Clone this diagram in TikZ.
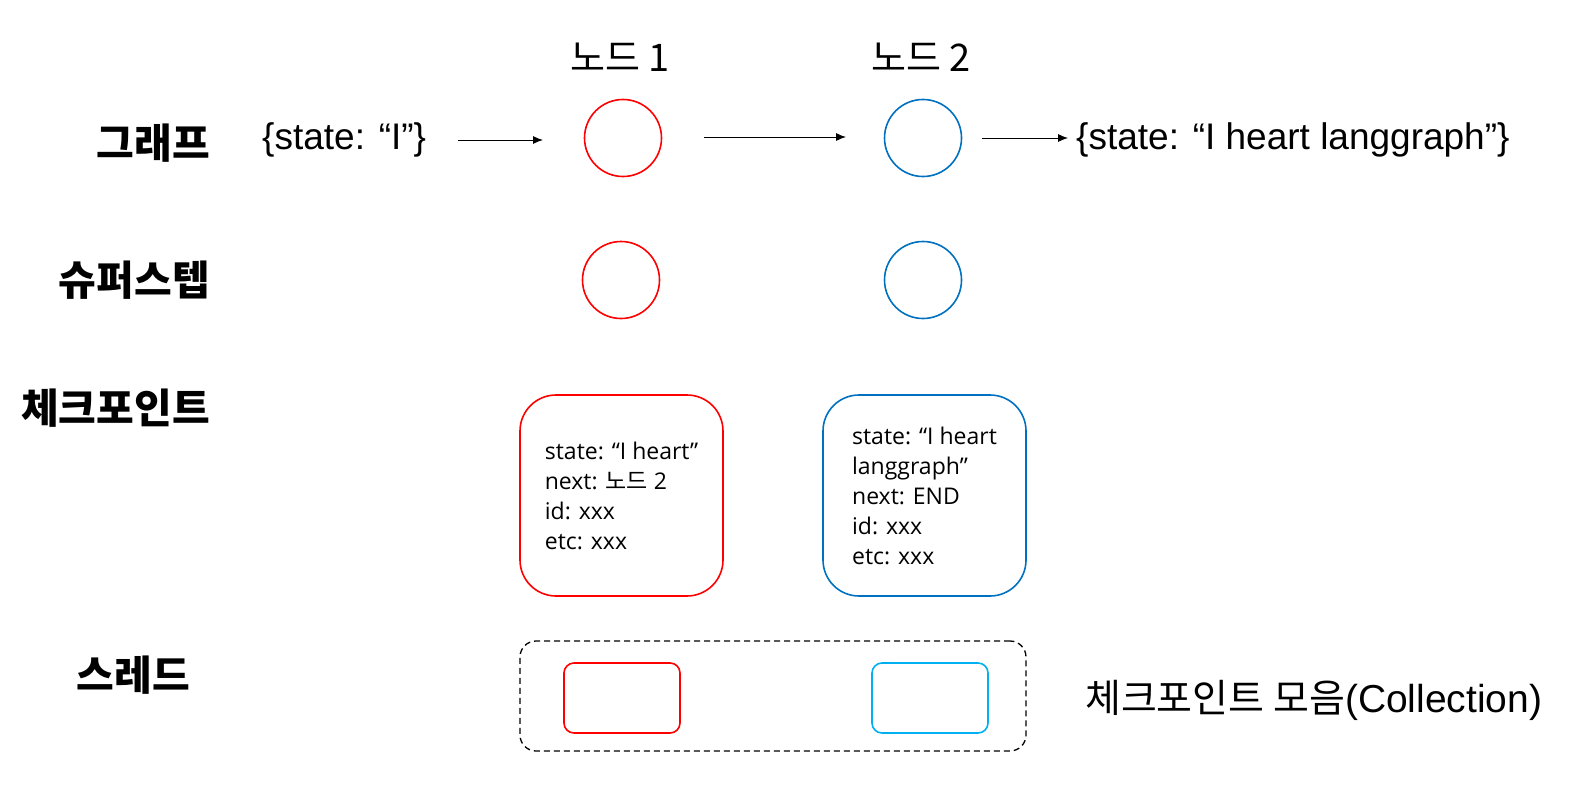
\documentclass[tikz,border=0pt]{standalone}
\usepackage{fontspec}
\setmainfont{Liberation Sans}
\newfontfamily\kr{Noto Sans CJK KR}
\newfontfamily\boxfont{Open Sans}
\usetikzlibrary{arrows.meta}
\definecolor{nred}{RGB}{255,0,0}
\definecolor{nblue}{RGB}{0,112,192}
\definecolor{ncyan}{RGB}{0,176,240}
\begin{document}
\begin{tikzpicture}[x=1pt,y=-1pt,
  lab/.style={font=\kr\bfseries\fontsize{41}{44}\selectfont, anchor=east, inner sep=0pt},
  ttl/.style={font=\kr\fontsize{38}{42}\selectfont, inner sep=0pt},
  stxt/.style={font=\fontsize{37}{42}\selectfont, inner sep=0pt, anchor=west},
  circ/.style={circle, minimum size=77pt, inner sep=0pt, line width=1.6pt},
  cpbox/.style={rectangle, rounded corners=36pt, minimum width=203pt, minimum height=201pt, line width=1.6pt, align=left, font=\boxfont\fontsize{23}{30}\selectfont},
  minibox/.style={rectangle, rounded corners=10pt, minimum width=116pt, minimum height=70pt, line width=1.6pt},
  arr/.style={-{Latex[length=10pt,width=8pt]}, line width=0.9pt, black}
]
\useasboundingbox (0,0) rectangle (1589,797);

% row labels
\node[lab] (lg) at (210,143) {그래프};
\node[lab] (ls) at (210,280) {슈퍼스텝};
\node[lab] (lc) at (210,408) {체크포인트};
\node[lab] (lt) at (190,675) {스레드};

% node titles
\node[ttl] (t1) at (620,57) {노드 1};
\node[ttl] (t2) at (921,57) {노드 2};

% graph row
\node[stxt] (in) at (262,140) {\{state: “I”\}};
\node[circ, draw=nred] (n1) at (623,138) {};
\node[circ, draw=nblue] (n2) at (923,138) {};
\node[stxt] (out) at (1076,140) {\{state: “I heart langgraph”\}};
\coordinate (a1s) at (458,140);
\coordinate (a1e) at (543,140);
\coordinate (a2s) at (704,137);
\coordinate (a2e) at (846,137);
\coordinate (a3s) at (982,138);
\coordinate (a3e) at (1068,138);
\draw[arr] (a1s) -- (a1e);
\draw[arr] (a2s) -- (a2e);
\draw[arr] (a3s) -- (a3e);

% superstep row
\node[circ, draw=nred] (s1) at (621,280) {};
\node[circ, draw=nblue] (s2) at (923,280) {};

% checkpoints
\node[cpbox, draw=nred] (c1) at (621.5,495.5) {state: “I heart”\\next: {\kr 노드} 2\\id: xxx\\etc: xxx};
\node[cpbox, draw=nblue] (c2) at (924.5,495.5) {state: “I heart\\langgraph”\\next: END\\id: xxx\\etc: xxx};

% thread
\node[rectangle, rounded corners=16pt, minimum width=506pt, minimum height=110pt, draw=black, line width=1.3pt, dash pattern=on 6pt off 4pt] (th) at (773,696) {};
\node[minibox, draw=nred] (m1) at (622,698) {};
\node[minibox, draw=ncyan] (m2) at (930,698) {};
\node[stxt, font=\fontsize{39}{44}\selectfont] (coll) at (1085,700) {{\kr 체크포인트 모음}(Collection)};
\end{tikzpicture}
\end{document}
